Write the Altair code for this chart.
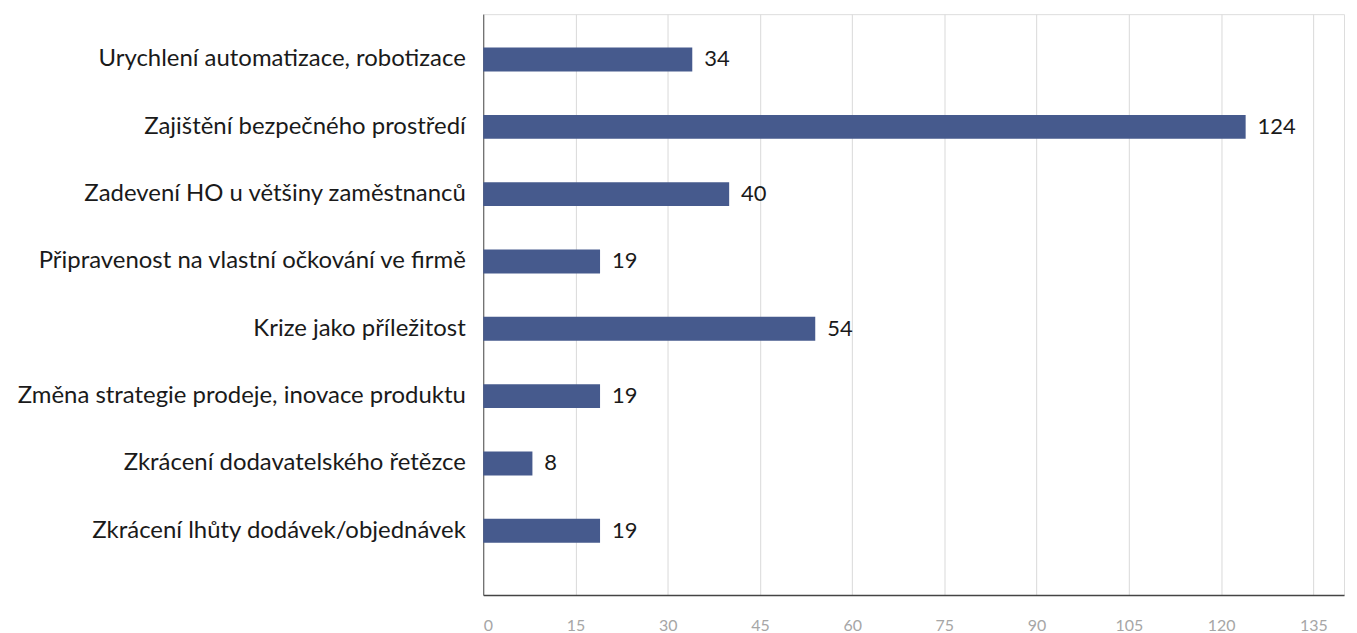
import altair as alt
import pandas as pd

categories = [
    "Urychlení automatizace, robotizace",
    "Zajištění bezpečného prostředí",
    "Zadevení HO u většiny zaměstnanců",
    "Připravenost na vlastní očkování ve firmě",
    "Krize jako příležitost",
    "Změna strategie prodeje, inovace produktu",
    "Zkrácení dodavatelského řetězce",
    "Zkrácení lhůty dodávek/objednávek",
]
values = [34, 124, 40, 19, 54, 19, 8, 19]
x_ticks = [0, 15, 30, 45, 60, 75, 90, 105, 120, 135]

df = pd.DataFrame({"cat": categories, "val": values})

FONT = "Lato"

y_enc = alt.Y(
    "cat:N",
    sort=categories,
    title=None,
    scale=alt.Scale(paddingInner=0.645, paddingOuter=0.636, align=0.39),
    axis=alt.Axis(
        labelFont=FONT,
        labelFontSize=24,
        labelColor="#1a1a1a",
        labelPadding=18,
        labelLimit=600,
        ticks=False,
        domainColor="#555555",
        domainWidth=1,
        minExtent=472,
        maxExtent=472,
        grid=False,
    ),
)

x_enc = alt.X(
    "val:Q",
    title=None,
    scale=alt.Scale(domain=[0, 140], nice=False),
    axis=alt.Axis(
        values=x_ticks,
        labelFont=FONT,
        labelFontSize=16,
        labelColor="#a6a6a6",
        labelPadding=23,
        ticks=False,
        domainColor="#444444",
        domainWidth=1.5,
        grid=True,
        gridColor="#d9d9d9",
        gridWidth=1,
    ),
)

bars = alt.Chart(df).mark_bar(color="#465a8d", size=24).encode(x=x_enc, y=y_enc)

labels = alt.Chart(df).mark_text(
    align="left", baseline="middle", dx=12, font=FONT, fontSize=22, color="#1a1a1a"
).encode(x="val:Q", y=alt.Y("cat:N", sort=categories), text="val:Q")

chart = (
    alt.layer(bars, labels)
    .properties(width=864, height=583)
    .configure_view(stroke=None)
    .configure(background="white")
)

chart.save("out.html", embed_options={"renderer": "svg", "actions": False})
